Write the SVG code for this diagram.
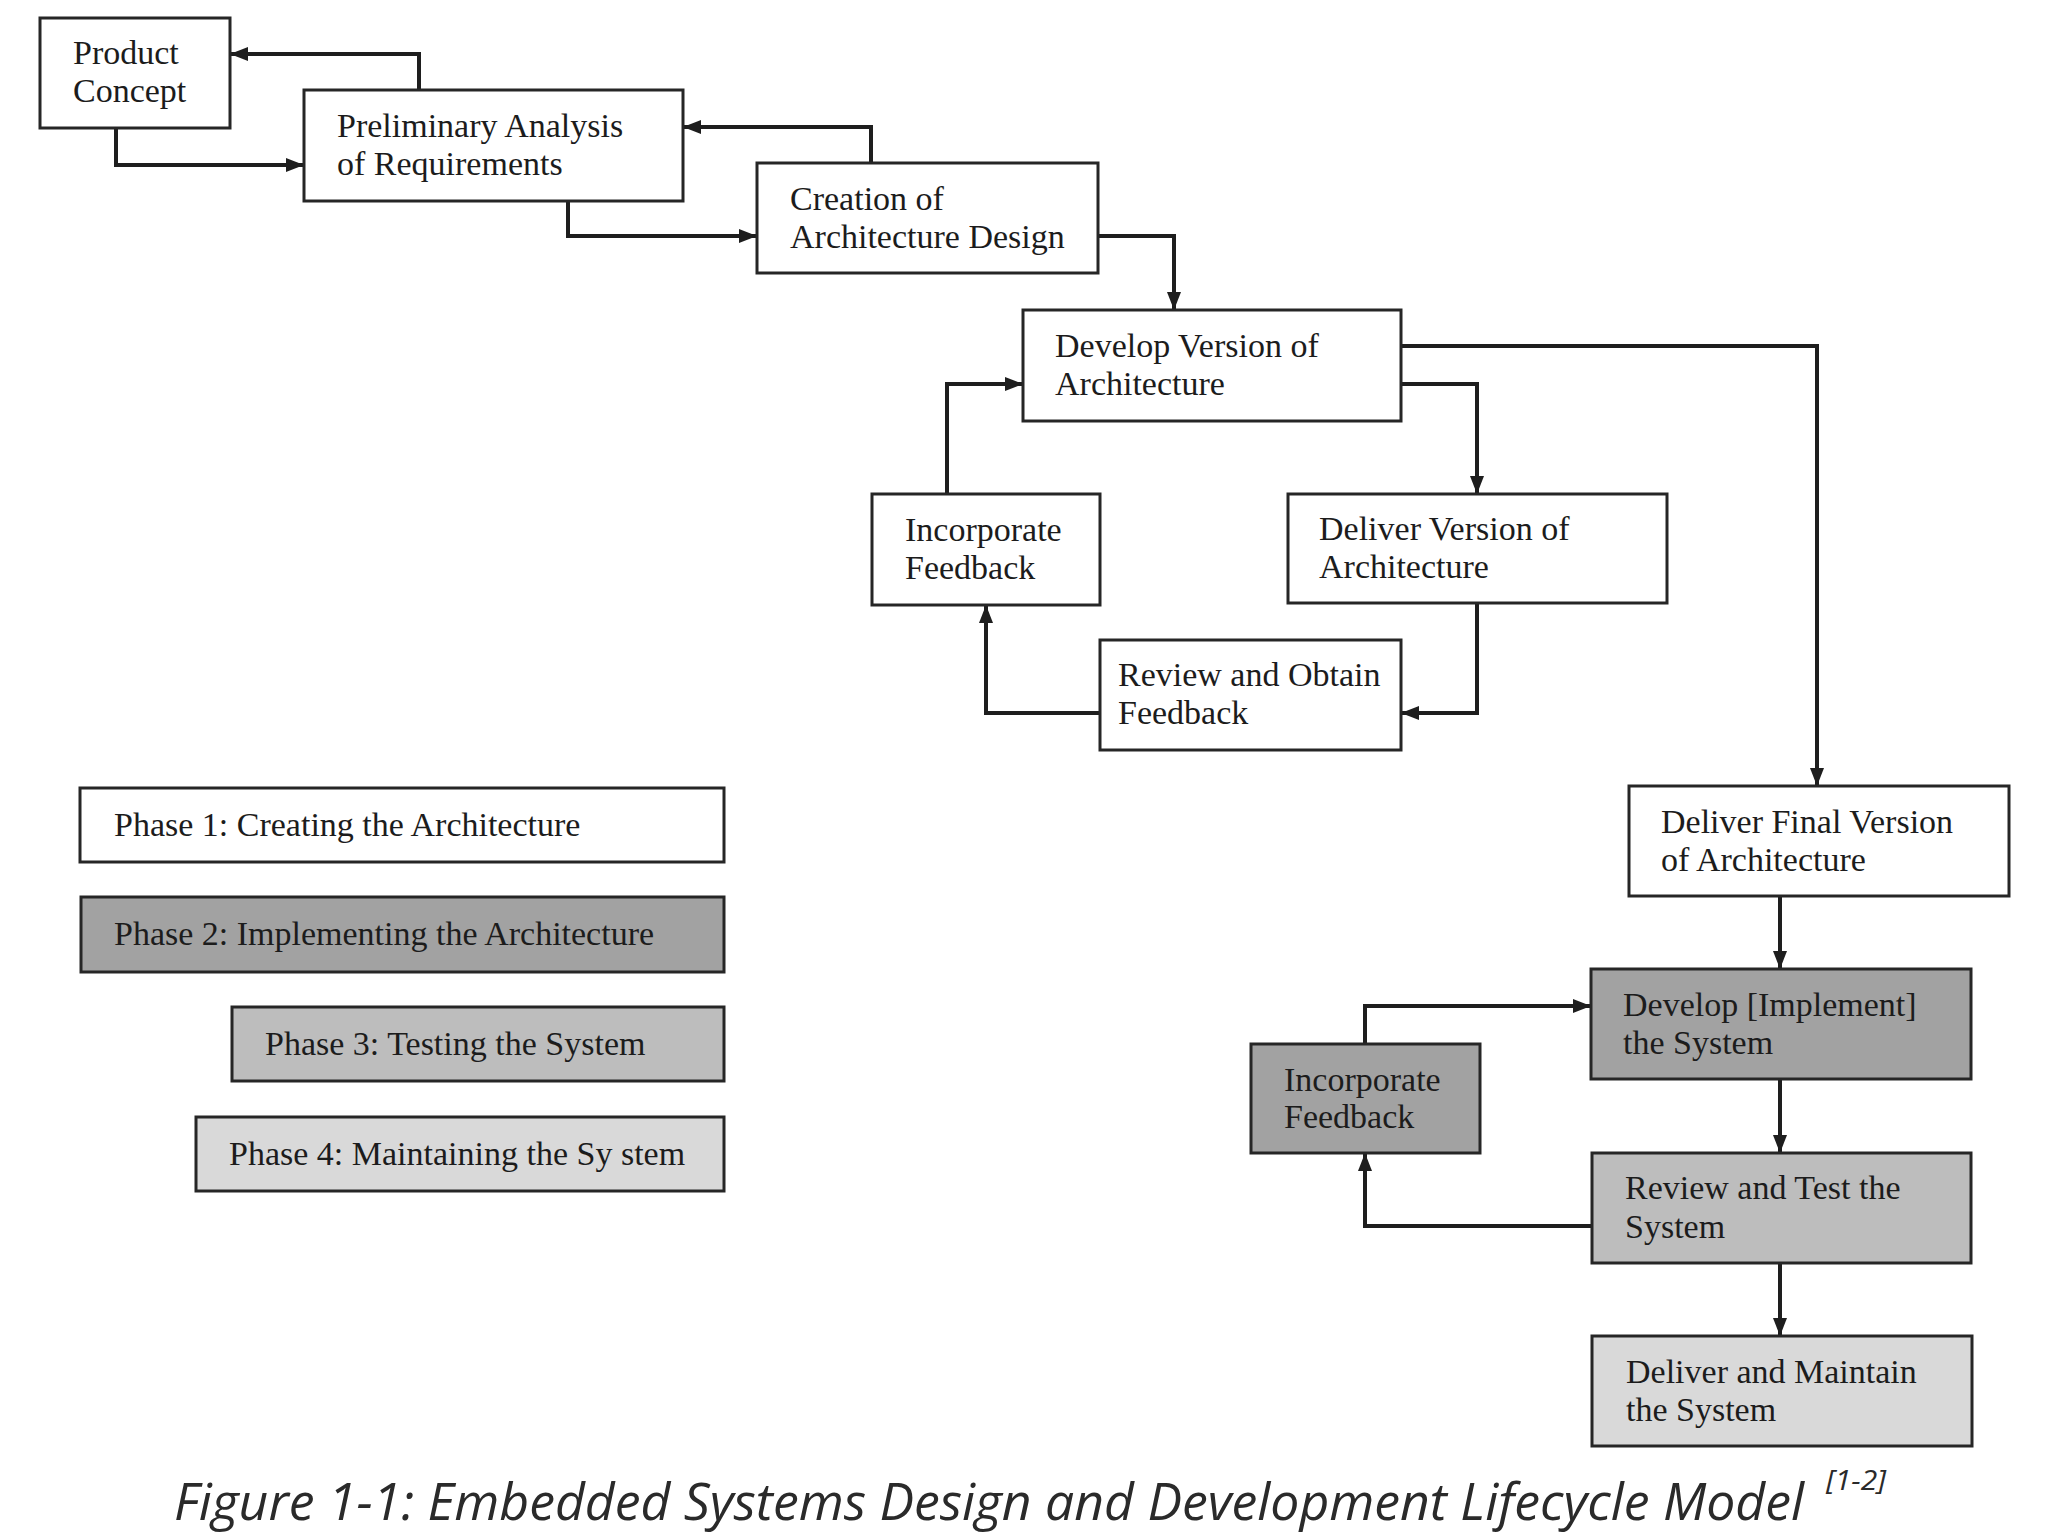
<svg xmlns="http://www.w3.org/2000/svg" width="2048" height="1536" viewBox="0 0 2048 1536">
<defs>
<marker id="arr" viewBox="0 0 18 14" refX="17" refY="7" markerWidth="18" markerHeight="14" markerUnits="userSpaceOnUse" orient="auto">
<path d="M0,0 L18,7 L0,14 z" fill="#1e1e1e"/>
</marker>
<style>
.box{stroke:#262626;stroke-width:3;}
.w{fill:#ffffff;}
.p2{fill:#a2a2a2;}
.p3{fill:#bdbdbd;}
.p4{fill:#d9d9d9;}
.t{font-family:"Liberation Serif","Times New Roman",serif;font-size:34px;fill:#1c1c1c;}
.c{fill:none;stroke:#1e1e1e;stroke-width:4;marker-end:url(#arr);}
.cap{font-family:"Open Sans","Liberation Sans",sans-serif;font-style:italic;fill:#2a2a2a;}
</style>
</defs>
<rect width="2048" height="1536" fill="#ffffff"/>

<g id="connectors">
<path class="c" d="M419,90 V54 H231"/>
<path class="c" d="M116,128 V165 H303"/>
<path class="c" d="M871,163 V127 H684"/>
<path class="c" d="M568,201 V236 H756"/>
<path class="c" d="M1098,236 H1174 V309"/>
<path class="c" d="M1401,384 H1477 V493"/>
<path class="c" d="M1401,346 H1817 V785"/>
<path class="c" d="M1477,603 V713 H1402"/>
<path class="c" d="M1100,713 H986 V606"/>
<path class="c" d="M947,494 V384 H1022"/>
<path class="c" d="M1780,896 V968"/>
<path class="c" d="M1780,1079 V1152"/>
<path class="c" d="M1780,1263 V1335"/>
<path class="c" d="M1592,1226 H1365 V1154"/>
<path class="c" d="M1365,1044 V1006 H1590"/>
</g>

<g id="product-concept">
<rect class="box w" x="40" y="18" width="190" height="110"/>
<text class="t" x="73" y="64">Product</text>
<text class="t" x="73" y="102">Concept</text>
</g>
<g id="preliminary-analysis">
<rect class="box w" x="304" y="90" width="379" height="111"/>
<text class="t" x="337" y="137">Preliminary  Analysis</text>
<text class="t" x="337" y="175">of  Requirements</text>
</g>
<g id="creation-architecture">
<rect class="box w" x="757" y="163" width="341" height="110"/>
<text class="t" x="790" y="210">Creation of</text>
<text class="t" x="790" y="248">Architecture Design</text>
</g>
<g id="develop-version">
<rect class="box w" x="1023" y="310" width="378" height="111"/>
<text class="t" x="1055" y="357">Develop Version of</text>
<text class="t" x="1055" y="395">Architecture</text>
</g>
<g id="incorporate-feedback-1">
<rect class="box w" x="872" y="494" width="228" height="111"/>
<text class="t" x="905" y="541">Incorporate</text>
<text class="t" x="905" y="579">Feedback</text>
</g>
<g id="deliver-version">
<rect class="box w" x="1288" y="494" width="379" height="109"/>
<text class="t" x="1319" y="540">Deliver Version of</text>
<text class="t" x="1319" y="578">Architecture</text>
</g>
<g id="review-obtain">
<rect class="box w" x="1100" y="640" width="301" height="110"/>
<text class="t" x="1118" y="686">Review and Obtain</text>
<text class="t" x="1118" y="724">Feedback</text>
</g>
<g id="deliver-final">
<rect class="box w" x="1629" y="786" width="380" height="110"/>
<text class="t" x="1661" y="833">Deliver Final Version</text>
<text class="t" x="1661" y="871">of Architecture</text>
</g>
<g id="develop-system">
<rect class="box p2" x="1591" y="969" width="380" height="110"/>
<text class="t" x="1623" y="1016">Develop [Implement]</text>
<text class="t" x="1623" y="1054">the System</text>
</g>
<g id="incorporate-feedback-2">
<rect class="box p2" x="1251" y="1044" width="229" height="109"/>
<text class="t" x="1284" y="1091">Incorporate</text>
<text class="t" x="1284" y="1128">Feedback</text>
</g>
<g id="review-test">
<rect class="box p3" x="1592" y="1153" width="379" height="110"/>
<text class="t" x="1625" y="1199">Review and Test the</text>
<text class="t" x="1625" y="1238">System</text>
</g>
<g id="deliver-maintain">
<rect class="box p4" x="1592" y="1336" width="380" height="110"/>
<text class="t" x="1626" y="1383">Deliver and Maintain</text>
<text class="t" x="1626" y="1421">the System</text>
</g>

<g id="phase-1">
<rect class="box w" x="80" y="788" width="644" height="74"/>
<text class="t" x="114" y="836">Phase 1: Creating the Architecture</text>
</g>
<g id="phase-2">
<rect class="box p2" x="81" y="897" width="643" height="75"/>
<text class="t" x="114" y="945">Phase 2: Implementing the Architecture</text>
</g>
<g id="phase-3">
<rect class="box p3" x="232" y="1007" width="492" height="74"/>
<text class="t" x="265" y="1055">Phase 3: Testing the System</text>
</g>
<g id="phase-4">
<rect class="box p4" x="196" y="1117" width="528" height="74"/>
<text class="t" x="229" y="1165">Phase 4: Maintaining the Sy stem</text>
</g>

<g id="caption">
<text class="cap" x="174" y="1520" font-size="52" textLength="1630" lengthAdjust="spacingAndGlyphs">Figure 1-1: Embedded Systems Design and Development Lifecycle Model</text>
<text class="cap" x="1826" y="1490" font-size="28" textLength="60" lengthAdjust="spacingAndGlyphs">[1-2]</text>
</g>
</svg>
